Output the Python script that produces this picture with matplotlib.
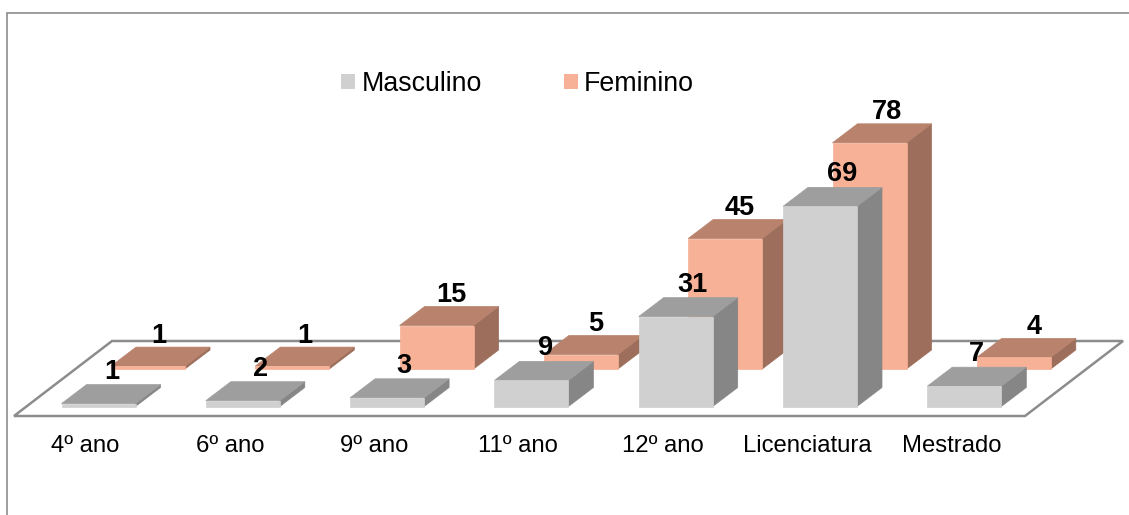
import matplotlib
matplotlib.use("Agg")
import matplotlib.pyplot as plt
from matplotlib.patches import Polygon, Patch

plt.rcParams['font.family'] = ['Liberation Sans', 'DejaVu Sans']

categories = ['4º ano', '6º ano', '9º ano', '11º ano', '12º ano', 'Licenciatura', 'Mestrado']
masculino = [1, 2, 3, 9, 31, 69, 7]
feminino = [1, 1, 15, 5, 45, 78, 4]

# styles
M_COL = dict(front='#d0d0d0', top='#9e9e9e', side='#868686')
F_COL = dict(front='#f7b196', top='#b9826c', side='#9c6e5b')
LINE = '#8c8c8c'

# scale: pixels per category and per value unit
W, H = 1129, 515
PX, PY = 144.3, 2.9
X0_PX, Y0_PX = 98.5, 406.5      # pixel of category 0 centre / value 0 (front row)

fig = plt.figure(figsize=(W / 100, H / 100), dpi=100)
ax = fig.add_axes([0, 0, 1, 1])
ax.set_xlim(-X0_PX / PX, (W - X0_PX) / PX)
ax.set_ylim((Y0_PX - H) / PY, Y0_PX / PY)
ax.axis('off')


def ux(px):
    return px / PX


def uy(px):
    return px / PY


def to_x(px):
    return (px - X0_PX) / PX


def to_y(py):
    return (Y0_PX - py) / PY


BAR_W = ux(74)
DEPTH_X, DEPTH_Y = ux(25), uy(19)
ROW_X, ROW_Y = ux(49.5), uy(37.5)


def bar3d(cx, base, value, cols, z):
    l, r = cx - BAR_W / 2, cx + BAR_W / 2
    t = base + value
    ec = dict(linewidth=0.5, joinstyle='miter', zorder=z)
    ax.add_patch(Polygon([(r, base), (r + DEPTH_X, base + DEPTH_Y), (r + DEPTH_X, t + DEPTH_Y), (r, t)],
                         fc=cols['side'], ec=cols['side'], **ec))
    ax.add_patch(Polygon([(l, t), (r, t), (r + DEPTH_X, t + DEPTH_Y), (l + DEPTH_X, t + DEPTH_Y)],
                         fc=cols['top'], ec=cols['top'], **ec))
    ax.add_patch(Polygon([(l, base), (r, base), (r, t), (l, t)],
                         fc=cols['front'], ec=cols['front'], **ec))


# frame lines (left and top only)
ax.plot([to_x(6.5), to_x(6.5), to_x(W)], [to_y(H), to_y(12.5), to_y(12.5)],
        color=LINE, lw=1.2, zorder=1, solid_joinstyle='miter')

# floor
floor = [(to_x(14), to_y(416)), (to_x(1025), to_y(416)), (to_x(1123), to_y(341)), (to_x(112), to_y(341))]
ax.add_patch(Polygon(floor, closed=True, fc='white', ec=LINE, lw=1.8, zorder=2))

# bars
for i, v in enumerate(feminino):
    bar3d(i + ROW_X, ROW_Y, v, F_COL, 3 + i * 0.01)
for i, v in enumerate(masculino):
    bar3d(i, 0, v, M_COL, 4 + i * 0.01)

# data labels
m_nudge = [1, 5, 4, 2, 4, 10, 0]
f_nudge = [-2, 0, 2, 2, 2, 5, 8]
for i, v in enumerate(masculino):
    ax.text(i + DEPTH_X / 2 + ux(m_nudge[i]), v + DEPTH_Y + uy(13), str(v), ha='center', va='center',
            fontsize=19.5, fontweight='bold', color='black', zorder=6)
for i, v in enumerate(feminino):
    ax.text(i + ROW_X + DEPTH_X / 2 + ux(f_nudge[i]), ROW_Y + v + DEPTH_Y + uy(11.5), str(v), ha='center',
            va='center', fontsize=19.5, fontweight='bold', color='black', zorder=6)

# category labels
for i, c in enumerate(categories):
    ax.text(i - ux(13), to_y(446.5), c, ha='center', va='center', fontsize=17.2, color='black', zorder=6)

# legend
handles = [Patch(fc=M_COL['front'], ec='none', label='Masculino'),
           Patch(fc=F_COL['front'], ec='none', label='Feminino')]
ax.legend(handles=handles, ncol=2, frameon=False, fontsize=19.3, loc='center',
          bbox_to_anchor=(to_x(517.5), to_y(84)), bbox_transform=ax.transData,
          handlelength=0.52, handleheight=0.52, handletextpad=0.22, columnspacing=3.06,
          borderpad=0, borderaxespad=0)

fig.savefig('out.png', dpi=100)
